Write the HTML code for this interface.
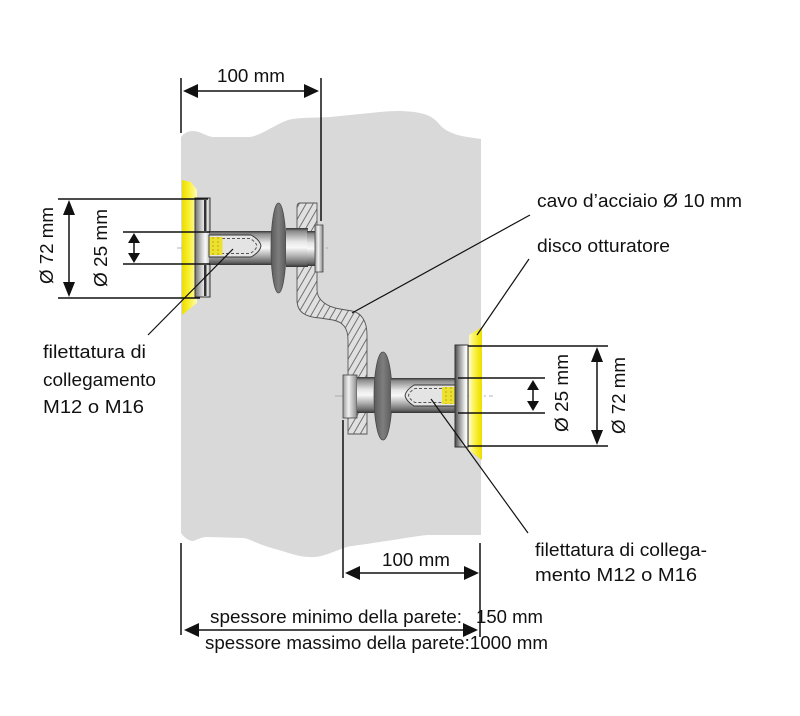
<!DOCTYPE html>
<html><head><meta charset="utf-8"><style>
html,body{margin:0;padding:0;background:#fff;}
svg{display:block;}
text{font-family:"Liberation Sans",sans-serif;font-size:18px;fill:#111;}
</style></head><body>
<svg width="800" height="716" viewBox="0 0 800 716" xmlns="http://www.w3.org/2000/svg">
<defs>
  <pattern id="hatch" patternUnits="userSpaceOnUse" width="6" height="10" patternTransform="rotate(30)">
    <rect width="6" height="10" fill="#e0e0e0"/>
    <line x1="1" y1="0" x2="1" y2="10" stroke="#555" stroke-width="0.8"/>
  </pattern>
  <linearGradient id="shaftV" x1="0" y1="0" x2="0" y2="1">
    <stop offset="0" stop-color="#333"/>
    <stop offset="0.08" stop-color="#8a8a8a"/>
    <stop offset="0.35" stop-color="#e6e6e6"/>
    <stop offset="0.5" stop-color="#f8f8f8"/>
    <stop offset="0.72" stop-color="#b0b0b0"/>
    <stop offset="0.92" stop-color="#666"/>
    <stop offset="1" stop-color="#333"/>
  </linearGradient>
  <linearGradient id="flangeL" x1="0" y1="0" x2="1" y2="0">
    <stop offset="0" stop-color="#6e6e6e"/>
    <stop offset="0.45" stop-color="#cfcfcf"/>
    <stop offset="0.7" stop-color="#fafafa"/>
    <stop offset="1" stop-color="#bdbdbd"/>
  </linearGradient>
  <linearGradient id="flangeR" x1="0" y1="0" x2="1" y2="0">
    <stop offset="0" stop-color="#4a4a4a"/>
    <stop offset="0.35" stop-color="#9a9a9a"/>
    <stop offset="0.8" stop-color="#f4f4f4"/>
    <stop offset="1" stop-color="#ffffff"/>
  </linearGradient>
  <linearGradient id="headH" x1="0" y1="0" x2="1" y2="0">
    <stop offset="0" stop-color="#999"/>
    <stop offset="0.4" stop-color="#f2f2f2"/>
    <stop offset="1" stop-color="#8a8a8a"/>
  </linearGradient>
  <linearGradient id="discG" x1="0" y1="0" x2="1" y2="0">
    <stop offset="0" stop-color="#5a5a5a"/>
    <stop offset="0.5" stop-color="#7e7e7e"/>
    <stop offset="1" stop-color="#5a5a5a"/>
  </linearGradient>
  <linearGradient id="yelL" x1="0" y1="0" x2="1" y2="0">
    <stop offset="0" stop-color="#ecdd00"/>
    <stop offset="0.45" stop-color="#f8ef30"/>
    <stop offset="1" stop-color="#fffab8"/>
  </linearGradient>
  <linearGradient id="yelR" x1="0" y1="0" x2="1" y2="0">
    <stop offset="0" stop-color="#fffbc0"/>
    <stop offset="0.55" stop-color="#f8ef30"/>
    <stop offset="1" stop-color="#ecdd00"/>
  </linearGradient>
</defs>

<!-- wall -->
<path d="M181,137 C184,133 188,131 193,131 C200,131 205,136 213,137 L250,137 C262,135 272,126 288,120 C300,117 315,118 330,117 L380,112 C390,111 405,110 420,113 C430,115 435,119 440,125 C445,131 455,135 467,137 L481,139 L481,535 L427,535 C410,537 400,539 393,540 L373,543 C360,545 350,546 347,547 C335,551 325,556 315,557 C300,558 290,553 275,549 C268,547 262,545 255,542 C250,540 246,538 243,538 L207,537 C200,537 196,541 192,541 C187,540 183,536 181,533 Z" fill="#d9d9d9"/>

<!-- cable (hatched) -->
<path d="M300,203 L317,203 L317,290 C317,300 327,307 340,309 L352,311 C362,313 367,322 367,335 L367,434 L348,434 L348,340 C348,328 343,322 333,320 L320,318 C305,317 297,312 297,300 L297,207 Q297,203 300,203 Z" fill="url(#hatch)" stroke="#555" stroke-width="0.9"/>

<!-- centerlines -->
<line x1="177" y1="248" x2="330" y2="248" stroke="#9a9a9a" stroke-width="0.8" stroke-dasharray="14 3 2 3"/>

<!-- upper bolt -->
<path d="M182,180 L191,182 L197,190 L197,303 L182,315 Z" fill="url(#yelL)"/>
<rect x="195" y="198" width="15" height="99" fill="url(#flangeL)" stroke="#333" stroke-width="1"/>
<rect x="204" y="200" width="2.5" height="31" fill="#333"/>
<rect x="204" y="265" width="2.5" height="31" fill="#333"/>
<rect x="209" y="231" width="64" height="34" fill="url(#shaftV)"/>
<path d="M209,235 L251,235 Q260,240 261,246 Q260,252 251,257 L209,257 Z" fill="#e4e4e4" stroke="#333" stroke-width="0.9"/>
<path d="M212,238.5 L250,238.5 Q256,242 257,246 Q256,250 250,253.5 L212,253.5" fill="none" stroke="#555" stroke-width="1" stroke-dasharray="3 2"/>
<rect x="209.5" y="237" width="13" height="18" fill="#ece030"/>
<line x1="213" y1="237" x2="213" y2="255" stroke="#b8a800" stroke-width="1" stroke-dasharray="2 2"/>
<line x1="218" y1="237" x2="218" y2="255" stroke="#b8a800" stroke-width="1" stroke-dasharray="2 2"/>
<ellipse cx="278.5" cy="248" rx="7.5" ry="45" fill="url(#discG)" stroke="#4a4a4a" stroke-width="0.8"/>
<rect x="286" y="228" width="22" height="39" fill="url(#shaftV)"/>
<rect x="307" y="231" width="9" height="35" fill="url(#shaftV)"/>
<rect x="315" y="225" width="8" height="47" fill="url(#headH)" stroke="#444" stroke-width="0.8"/>

<!-- lower centerline -->
<line x1="335" y1="396" x2="493" y2="396" stroke="#9a9a9a" stroke-width="0.8" stroke-dasharray="14 3 2 3"/>

<!-- lower bolt -->
<rect x="343" y="375" width="14" height="43" fill="url(#headH)" stroke="#444" stroke-width="0.8"/>
<rect x="357" y="377" width="18" height="36" fill="url(#shaftV)"/>
<ellipse cx="383" cy="396" rx="9" ry="44" fill="url(#discG)" stroke="#4a4a4a" stroke-width="0.8"/>
<rect x="391" y="378" width="66" height="35" fill="url(#shaftV)"/>
<path d="M455,385 L414,385 Q406,390 405,395.5 Q406,401 414,406 L455,406 Z" fill="#e4e4e4" stroke="#333" stroke-width="0.9"/>
<path d="M452,388.5 L415,388.5 Q409,392 408.5,395.5 Q409,399 415,402.5 L452,402.5" fill="none" stroke="#555" stroke-width="1" stroke-dasharray="3 2"/>
<rect x="442" y="387" width="13" height="17" fill="#ece030"/>
<line x1="446" y1="387" x2="446" y2="404" stroke="#b8a800" stroke-width="1" stroke-dasharray="2 2"/>
<line x1="451" y1="387" x2="451" y2="404" stroke="#b8a800" stroke-width="1" stroke-dasharray="2 2"/>
<rect x="455" y="345" width="13" height="102" fill="url(#flangeR)" stroke="#333" stroke-width="1"/>
<path d="M469,335 L482,327 L482,460 L469,450 Z" fill="url(#yelR)"/>

<!-- dimension / extension lines -->
<g stroke="#111" stroke-width="1.5" fill="none">
  <line x1="181" y1="78" x2="181" y2="133"/>
  <line x1="321" y1="78" x2="321" y2="221"/>
  <line x1="190" y1="91" x2="312" y2="91"/>

  <line x1="58" y1="199" x2="208" y2="199"/>
  <line x1="58" y1="298" x2="200" y2="298"/>
  <line x1="123" y1="232" x2="210" y2="232"/>
  <line x1="123" y1="264" x2="210" y2="264"/>
  <line x1="69" y1="210" x2="69" y2="288"/>
  <line x1="134" y1="238" x2="134" y2="258"/>

  <line x1="468" y1="346" x2="608" y2="346"/>
  <line x1="468" y1="446" x2="608" y2="446"/>
  <line x1="458" y1="378" x2="545" y2="378"/>
  <line x1="458" y1="413" x2="545" y2="413"/>
  <line x1="597" y1="355" x2="597" y2="437"/>
  <line x1="533" y1="385" x2="533" y2="406"/>

  <line x1="343" y1="420" x2="343" y2="578"/>
  <line x1="480" y1="543" x2="480" y2="637"/>
  <line x1="181" y1="543" x2="181" y2="635"/>
  <line x1="352" y1="573" x2="472" y2="573"/>
  <line x1="192" y1="630" x2="470" y2="630"/>
</g>
<g fill="#111">
  <polygon points="183,91 198,84 198,98"/>
  <polygon points="319,91 304,84 304,98"/>
  <polygon points="69,200 63,215 75,215"/>
  <polygon points="69,297 63,282 75,282"/>
  <polygon points="134,233 128,243 140,243"/>
  <polygon points="134,263 128,253 140,253"/>
  <polygon points="533,380 527,390 539,390"/>
  <polygon points="533,411 527,401 539,401"/>
  <polygon points="597,347 591,362 603,362"/>
  <polygon points="597,445 591,430 603,430"/>
  <polygon points="345,573 360,566 360,580"/>
  <polygon points="479,573 464,566 464,580"/>
  <polygon points="184,630 199,623 199,637"/>
  <polygon points="478,630 463,623 463,637"/>
</g>

<!-- leader lines -->
<g stroke="#111" stroke-width="1.2">
  <line x1="148" y1="335" x2="233" y2="249"/>
  <line x1="530" y1="215" x2="352" y2="313"/>
  <line x1="529" y1="259" x2="477" y2="335"/>
  <line x1="528" y1="533" x2="431" y2="399"/>
</g>

<!-- texts -->
<text x="217" y="82" textLength="68" lengthAdjust="spacingAndGlyphs">100 mm</text>
<text x="382" y="566" textLength="68" lengthAdjust="spacingAndGlyphs">100 mm</text>
<text x="210" y="623" textLength="252" lengthAdjust="spacingAndGlyphs">spessore minimo della parete:</text>
<text x="476" y="623" textLength="67" lengthAdjust="spacingAndGlyphs">150 mm</text>
<text x="205" y="649" textLength="343" lengthAdjust="spacingAndGlyphs">spessore massimo della parete:1000 mm</text>

<text x="537" y="207" textLength="205" lengthAdjust="spacingAndGlyphs">cavo d’acciaio Ø 10 mm</text>
<text x="537" y="252" textLength="133" lengthAdjust="spacingAndGlyphs">disco otturatore</text>
<text x="535" y="556" textLength="172" lengthAdjust="spacingAndGlyphs">filettatura di collega-</text>
<text x="535" y="581" textLength="162" lengthAdjust="spacingAndGlyphs">mento M12 o M16</text>

<text x="43" y="358" textLength="103" lengthAdjust="spacingAndGlyphs">filettatura di</text>
<text x="43" y="386" textLength="113" lengthAdjust="spacingAndGlyphs">collegamento</text>
<text x="43" y="413" textLength="101" lengthAdjust="spacingAndGlyphs">M12 o M16</text>

<text transform="translate(53,284) rotate(-90)" x="0" y="0" textLength="77" lengthAdjust="spacingAndGlyphs">Ø 72 mm</text>
<text transform="translate(107,287) rotate(-90)" x="0" y="0" textLength="78" lengthAdjust="spacingAndGlyphs">Ø 25 mm</text>
<text transform="translate(568,432) rotate(-90)" x="0" y="0" textLength="78" lengthAdjust="spacingAndGlyphs">Ø 25 mm</text>
<text transform="translate(625,434) rotate(-90)" x="0" y="0" textLength="77" lengthAdjust="spacingAndGlyphs">Ø 72 mm</text>
</svg>
</body></html>
